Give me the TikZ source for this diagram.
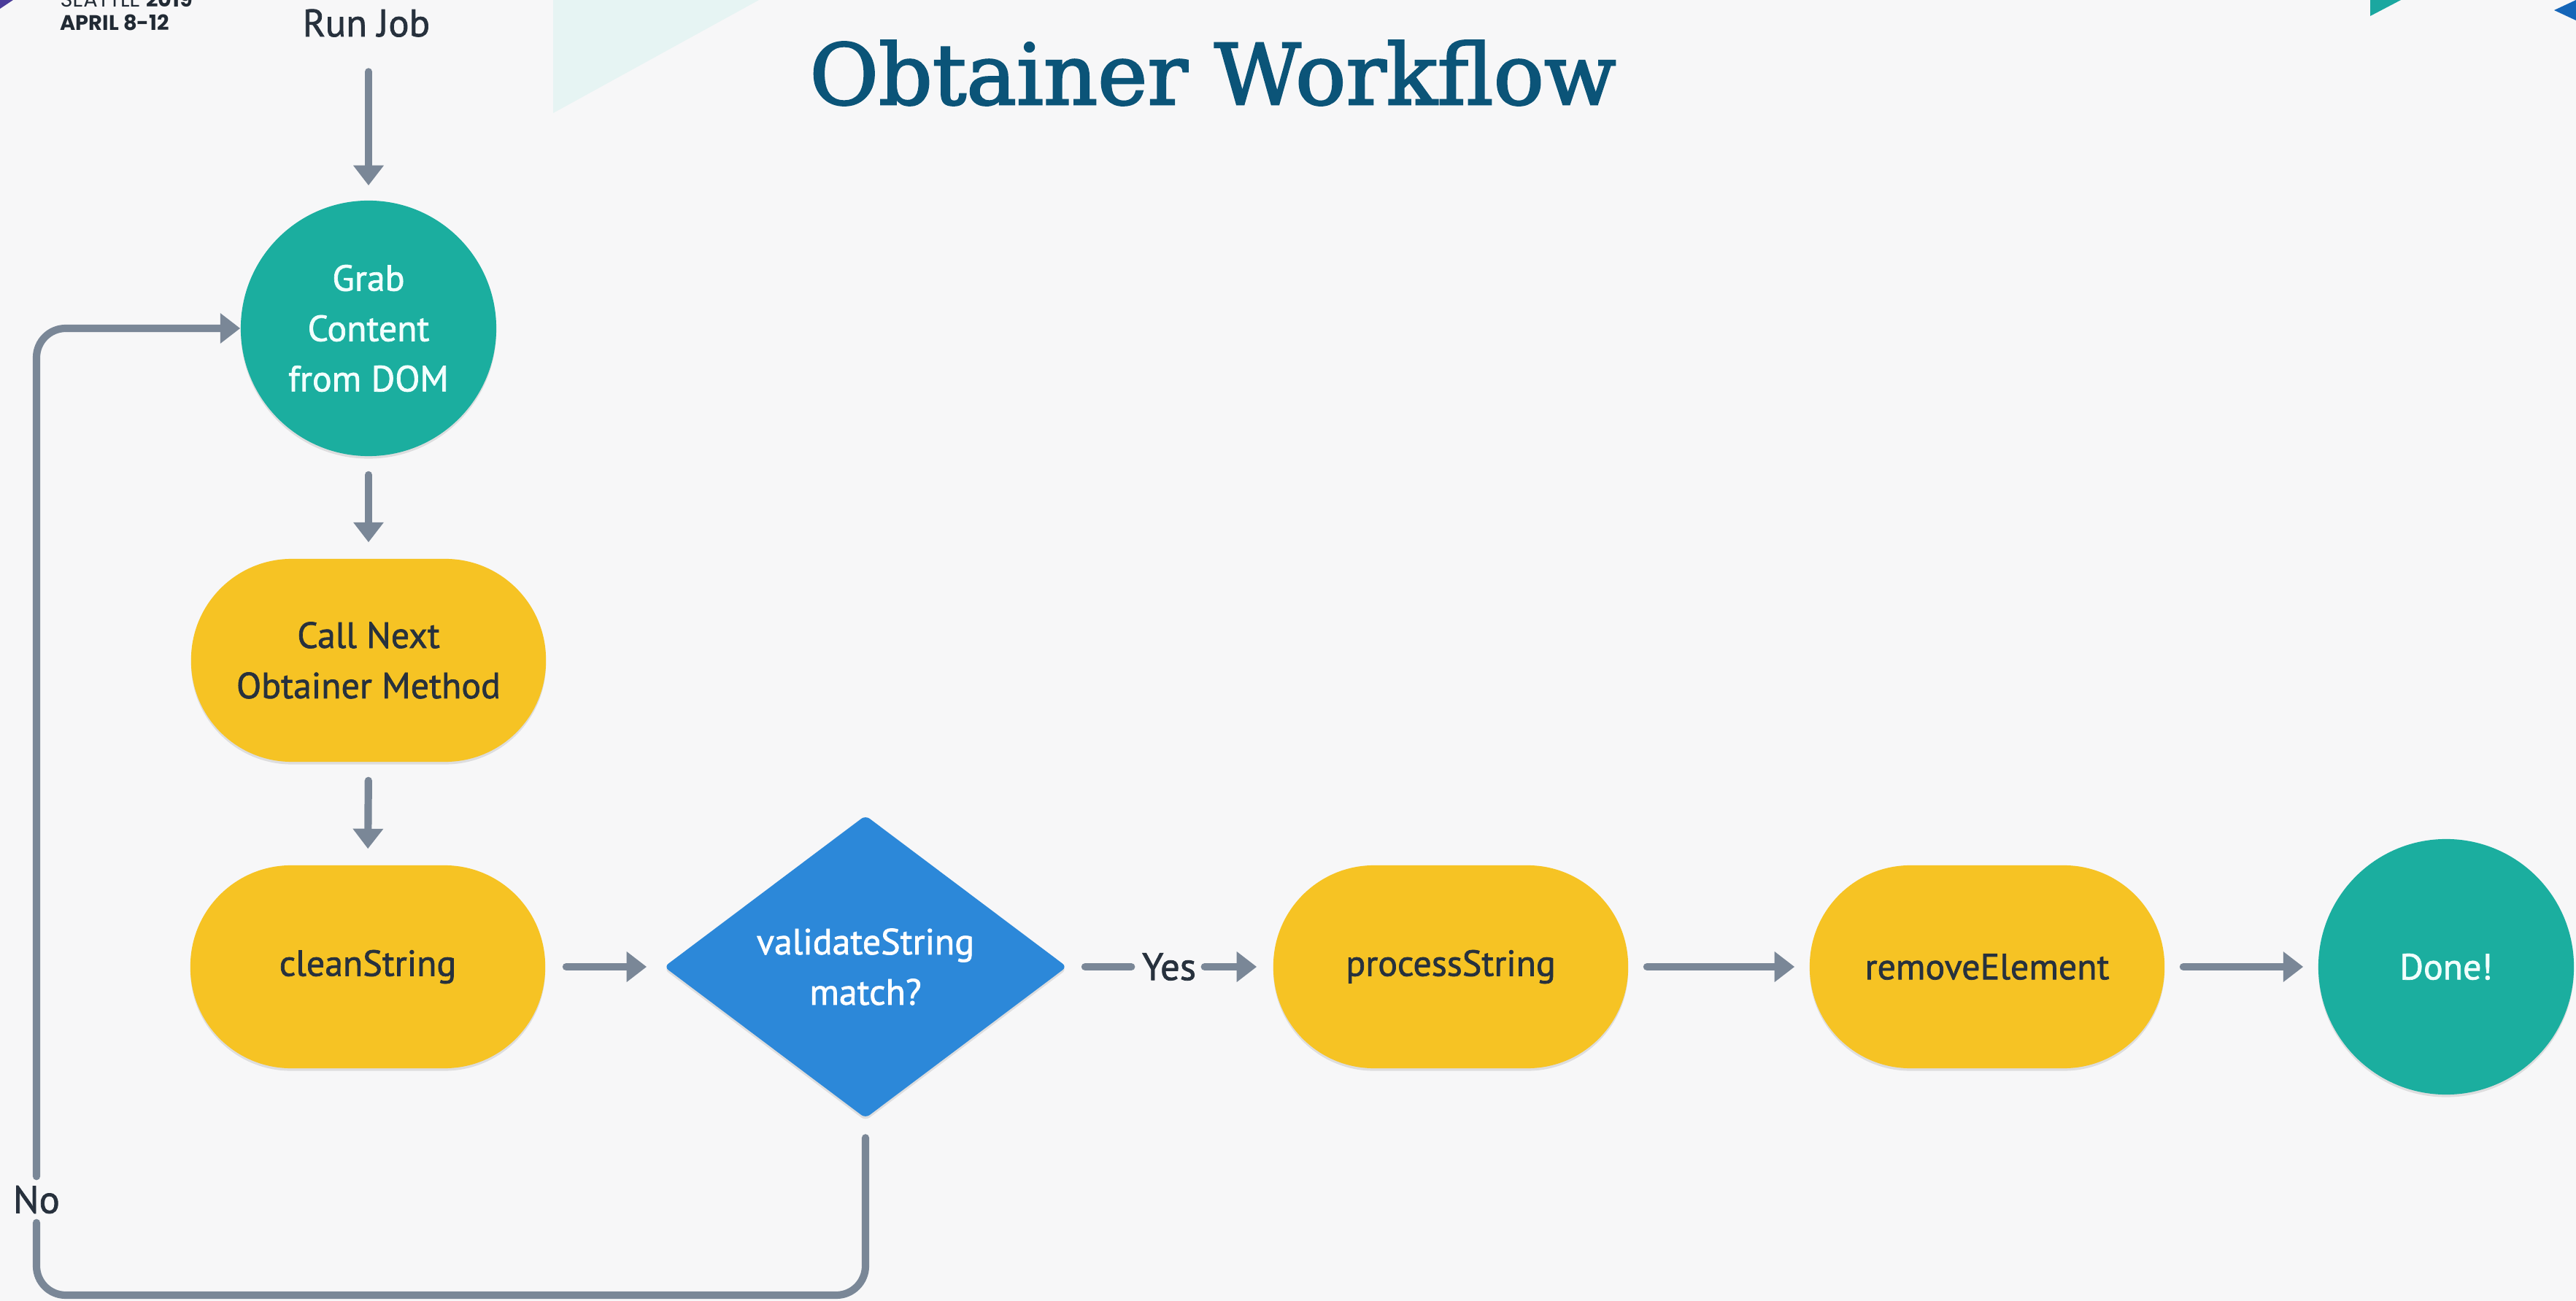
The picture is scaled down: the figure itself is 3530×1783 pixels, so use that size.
\documentclass[tikz,border=0pt]{standalone}
\usepackage{fontspec}
\setmainfont{PT Sans}[FakeBold=1.4]
\newfontfamily\titlefont{DejaVu Serif}[FakeBold=2.2]
\newfontfamily\logofont{Poppins}
\usetikzlibrary{shapes.geometric, arrows.meta, shadows}
\definecolor{bgc}{HTML}{F7F7F8}
\definecolor{tealc}{HTML}{1BAE9F}
\definecolor{ylwc}{HTML}{F6C324}
\definecolor{bluec}{HTML}{2C88D9}
\definecolor{arrc}{HTML}{7A8797}
\definecolor{titlec}{HTML}{0B5478}
\definecolor{darkc}{HTML}{27313D}
\definecolor{lightc}{HTML}{F2FFFD}
\definecolor{cyanc}{HTML}{E6F4F3}
\definecolor{purpc}{HTML}{4B3C9A}
\definecolor{rblue}{HTML}{1565B8}
\definecolor{rteal}{HTML}{1BA7A0}
\newcommand{\nodefont}{\fontsize{14.2}{19.6}\selectfont}
\newcommand{\labfont}{\fontsize{15}{18}\selectfont}
\tikzset{
  shadowed/.style={drop shadow={shadow xshift=0pt, shadow yshift=-1pt, opacity=0.10, fill=black}},
  stadium/.style={shape=rectangle, fill=ylwc, rounded corners=1.38cm, minimum width=4.86cm, minimum height=2.78cm, text=darkc, font=\nodefont, align=center, shadowed},
  circnode/.style={shape=circle, fill=tealc, minimum size=3.5cm, inner sep=0pt, text=lightc, font=\nodefont, align=center, shadowed},
  dianode/.style={shape=diamond, fill=bluec, minimum width=5.52cm, minimum height=4.15cm, inner sep=0pt, rounded corners=2pt, text=white, font=\nodefont, align=center, shadowed},
  labnode/.style={text=darkc, font=\labfont, inner sep=0pt},
  connplain/.style={draw=arrc, line width=2.9pt, line cap=round},
  conn/.style={connplain, -{Triangle[length=7.8pt, width=11.4pt]}},
}
\begin{document}
\begin{tikzpicture}[x=0.01cm, y=-0.01cm]
\fill[bgc] (0,0) rectangle (3530,1783);
\useasboundingbox (0,0) rectangle (3530,1783);
% decorations
\fill[cyanc] (758,0) -- (1040,0) -- (758,155) -- cycle;
\fill[purpc] (0,0) -- (18,0) -- (0,12) -- cycle;
\fill[rteal] (3248,0) -- (3290,0) -- (3248,22) -- cycle;
\fill[rblue] (3530,0) -- (3500,14) -- (3530,28) -- cycle;
\node[anchor=base west, inner sep=0pt, text=darkc!85!black, font=\logofont\fontsize{8.2}{9}\selectfont] (logoa) at (82,10) {SEATTLE \textbf{2019}};
\node[anchor=base west, inner sep=0pt, text=darkc!85!black, font=\logofont\fontsize{8.2}{9}\selectfont\bfseries] (logob) at (82,42) {APRIL 8-12};
% title
\node[anchor=base, inner sep=0pt, text=titlec, font=\titlefont\fontsize{32.8}{36}\selectfont] (title) at (1662,143) {Obtainer Workflow};
% nodes
\node[labnode, anchor=base] (run) at (502,50) {Run Job};
\node[circnode] (grab) at (505,450) {Grab\\Content\\from DOM};
\node[stadium] (call) at (505,905) {Call Next\\Obtainer Method};
\node[stadium] (clean) at (504,1325) {cleanString};
\node[dianode] (dia) at (1186,1325) {validateString\\match?};
\node[labnode] (yes) at (1602,1325) {Yes};
\node[stadium] (proc) at (1988,1325) {processString};
\node[stadium] (rem) at (2723,1325) {removeElement};
\node[circnode] (done) at (3352,1325) {Done!};
\node[labnode, minimum height=0.62cm] (no) at (50,1644) {No};
\coordinate (bl) at (50,1775);
% connectors
\draw[conn, shorten <=0.47cm, shorten >=0.2cm] (grab.north |- run.south) -- (grab.north);
\draw[conn, shorten <=0.25cm, shorten >=0.22cm] (grab.south) -- (call.north);
\draw[conn, shorten <=0.25cm, shorten >=0.22cm] (call.south) -- (clean.north);
\draw[conn, shorten <=0.28cm, shorten >=0.23cm] (clean.east) -- (dia.west);
\draw[connplain, shorten <=0.24cm, shorten >=0.14cm] (dia.east) -- (yes.west);
\draw[conn, shorten <=0.11cm, shorten >=0.22cm] (yes.east) -- (proc.west);
\draw[conn, shorten <=0.25cm, shorten >=0.2cm] (proc.east) -- (rem.west);
\draw[conn, shorten <=0.25cm, shorten >=0.2cm] (rem.east) -- (done.west);
\draw[connplain, rounded corners=0.4cm, shorten <=0.26cm] (dia.south) -- (dia.south |- bl) -- (bl) -- (no.south);
\draw[conn, rounded corners=0.4cm] (no.north) -- (no.north |- grab.west) -- (grab.west);
\end{tikzpicture}
\end{document}
